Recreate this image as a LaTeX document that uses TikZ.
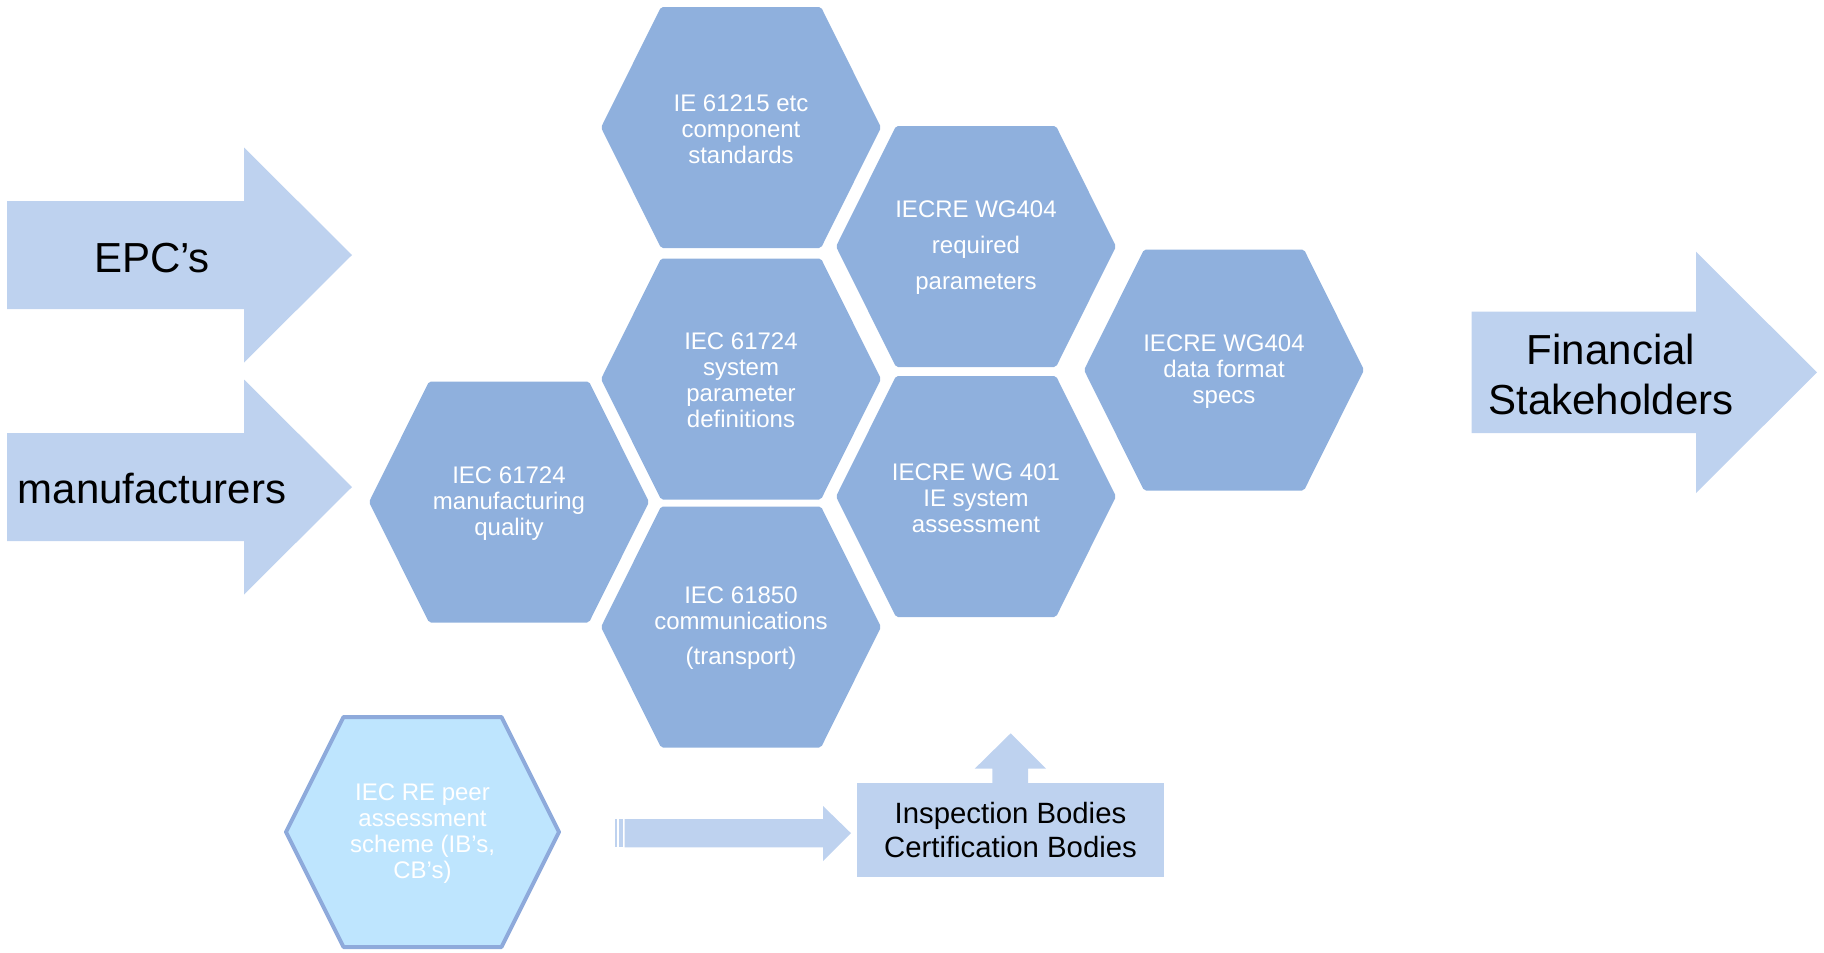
\documentclass[tikz,border=0pt]{standalone}
\usepackage{fontspec}
\setmainfont{Liberation Sans}

\definecolor{hexblue}{HTML}{8FB0DD}
\definecolor{arrowblue}{HTML}{BED2EF}
\definecolor{peerfill}{HTML}{BEE5FE}
\definecolor{peerline}{HTML}{8EAADB}

\tikzset{
  hexcell/.style={fill=hexblue, rounded corners=1.5pt},
  hextext/.style={text=white, align=center, inner sep=0pt, font=\fontsize{18}{19.5}\selectfont},
  blockarrow/.style={fill=arrowblue},
  bigtext/.style={align=center, inner sep=0pt, font=\fontsize{31.5}{37.5}\selectfont},
  bodybox/.style={fill=arrowblue, align=center, inner sep=0pt, minimum width=230.25pt, minimum height=70.5pt, font=\fontsize{22}{25.5}\selectfont}
}

\begin{document}
\begin{tikzpicture}[x=0.75pt, y=-0.75pt]
 \useasboundingbox (0,0) rectangle (1824,953);

 %input arrows
 \foreach \y in {255, 487} {
   \fill[blockarrow] (7,\y-54) -- (244,\y-54) -- (244,\y-107.5) -- (352,\y) -- (244,\y+107.5) -- (244,\y+54) -- (7,\y+54) -- cycle;
 }
 \node[bigtext, anchor=base] (epc) at (152,272) {EPC’s};
 \node[bigtext, anchor=base] (manuf) at (152,503) {manufacturers};

 %output arrow
 \fill[blockarrow] (1471.5,311.7) -- (1696,311.7) -- (1696,251.7) -- (1817,372.4) -- (1696,493) -- (1696,433) -- (1471.5,433) -- cycle;
 \node[bigtext] (fin) at (1611,374) {Financial\\Stakeholders};

 %standards
 \foreach \cx/\cy/\name/\txt in {
   741/127.5/comp/{IE 61215 etc\\component\\standards},
   976/246.5/wgreq/{IECRE WG404\\[7.5pt]required\\[7.5pt]parameters},
   741/379/sysdef/{IEC 61724\\system\\parameter\\definitions},
   509/502/mfgq/{IEC 61724\\manufacturing\\quality},
   741/627/comms/{IEC 61850\\communications\\[6.75pt](transport)},
   976/496.5/wgsys/{IECRE WG 401\\IE system\\assessment},
   1224/370/wgfmt/{IECRE WG404\\data format\\specs}} {
   \fill[hexcell] (\cx-140,\cy) -- (\cx-80,\cy-120.5) -- (\cx+80,\cy-120.5) -- (\cx+140,\cy) -- (\cx+80,\cy+120.5) -- (\cx-80,\cy+120.5) -- cycle;
   \node[hextext] (\name) at (\cx,\cy+1.5) {\txt};
 }

 %peer assessment
 \draw[fill=peerfill, draw=peerline, line width=3pt, line join=round] (286,832) -- (343.5,717) -- (501.5,717) -- (559,832) -- (501.5,947) -- (343.5,947) -- cycle;
 \node[hextext] (peer) at (422.5,833.5) {IEC RE peer\\assessment\\scheme (IB’s,\\CB’s)};

 %striped arrow
 \fill[blockarrow] (615.3,819) rectangle (616.7,847.3);
 \fill[blockarrow] (619,819) rectangle (622.7,847.3);
 \fill[blockarrow] (624.7,819) -- (823,819) -- (823,806) -- (851,833.2) -- (823,861) -- (823,847.3) -- (624.7,847.3) -- cycle;

 %bodies
 \node[bodybox] (bodies) at (1010.5,830) {Inspection Bodies\\Certification Bodies};
 \fill[blockarrow] (992.3,783.5) -- (992.3,768.7) -- (974.7,768.7) -- (1010.7,733.3) -- (1046,768.7) -- (1028,768.7) -- (1028,783.5) -- cycle;

\end{tikzpicture}
\end{document}
